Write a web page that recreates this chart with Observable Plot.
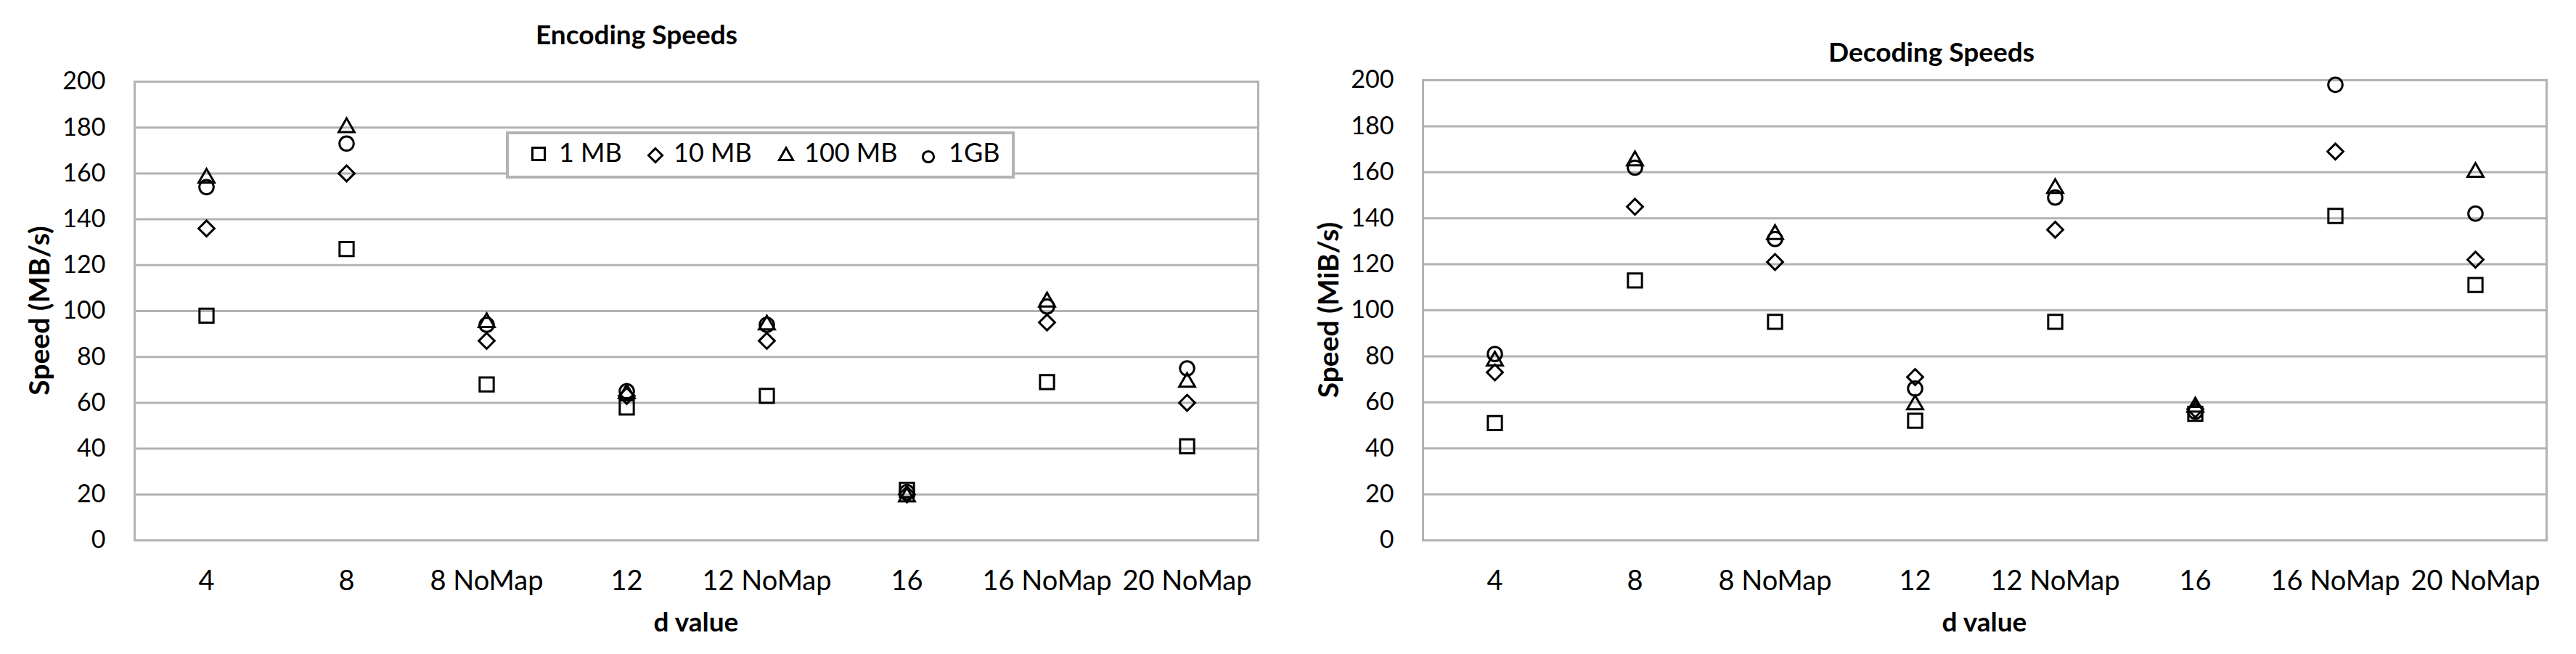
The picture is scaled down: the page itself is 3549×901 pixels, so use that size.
<!DOCTYPE html>
<html>
<head>
<meta charset="utf-8">
<script src="https://cdn.jsdelivr.net/npm/d3@7"></script>
<script src="https://cdn.jsdelivr.net/npm/@observablehq/plot@0.6"></script>
<style>
  body { margin: 0; background: #fff; }
  #page { position: relative; width: 3549px; height: 901px; overflow: hidden; background: #fff;
          font-family: Lato, "Open Sans", sans-serif; color: #000; }
  .abs { position: absolute; white-space: nowrap; line-height: 1.2; }
  .c { transform: translate(-50%, -50%); }
  .l { transform: translate(0, -50%); }
  .bold { font-weight: 700; font-size: 37px; }
  .rot { transform: translate(-50%, -50%) rotate(-90deg); }
  .legend { position: absolute; box-sizing: border-box; border: 4px solid #b3b3b3; background: #fff; }
  .leglab { font-size: 36px; }
  .plotwrap { position: absolute; }
  .plotwrap svg { max-width: none !important; }
</style>
</head>
<body>
<div id="page"></div>
<script>
// ---- data ----
const categories = ["4", "8", "8 NoMap", "12", "12 NoMap", "16", "16 NoMap", "20 NoMap"];
const seriesNames = ["1 MB", "10 MB", "100 MB", "1GB"];
const yTicks = [0, 20, 40, 60, 80, 100, 120, 140, 160, 180, 200];

// Encoding speeds (MB/s)
const enc1MB   = [98, 127, 68, 58, 63, 22, 69, 41];
const enc10MB  = [136, 160, 87, 63, 87, 20, 95, 60];
const enc100MB = [158, 180, 95, 64, 94, 19, 104, 69];
const enc1GB   = [154, 173, 94, 65, 94, 21, 102, 75];

// Decoding speeds (MiB/s)
const dec1MB   = [51, 113, 95, 52, 95, 55, 141, 111];
const dec10MB  = [73, 145, 121, 71, 135, 57, 169, 122];
const dec100MB = [78, 165, 133, 59, 153, 58, null, 160];
const dec1GB   = [81, 162, 131, 66, 149, 56, 198, 142];

// ---- styling ----
const symbols = ["square", "diamond2", "triangle2", "circle"];
const radii = [10.9, 9.8, 10.4, 9.8];
const grey = "#b3b3b3";

const page = document.getElementById("page");

function addDiv(cls, text, x, y, extra) {
  const d = document.createElement("div");
  d.className = "abs " + cls;
  d.textContent = text;
  d.style.left = x + "px";
  d.style.top = y + "px";
  if (extra) Object.assign(d.style, extra);
  page.appendChild(d);
  return d;
}

function makeChart(values, opts) {
  const marks = [
    Plot.gridY(yTicks, {stroke: grey, strokeOpacity: 1, strokeWidth: 3}),
    Plot.frame({stroke: grey, strokeWidth: 3}),
    Plot.axisY(yTicks, {tickSize: 0, tickPadding: 40, label: null, fontSize: 34}),
    Plot.axisX({tickSize: 0, tickPadding: 42, label: null, fontSize: 38}),
    ...seriesNames.map((s, k) =>
      Plot.dot(
        categories.map((c, i) => ({cat: c, v: values[k][i], series: s})),
        {x: "cat", y: "v", symbol: symbols[k], r: radii[k], stroke: "black", strokeWidth: 3, fill: "none"}
      )
    )
  ];
  const svg = Plot.plot({
    width: opts.width,
    height: opts.height,
    marginLeft: opts.marginLeft,
    marginRight: opts.marginRight,
    marginTop: opts.marginTop,
    marginBottom: opts.marginBottom,
    x: {type: "point", domain: categories, padding: 0.5},
    y: {domain: [0, 200]},
    style: {fontFamily: "Lato, 'Open Sans', sans-serif", fontSize: "35px", color: "black", background: "transparent", overflow: "visible"},
    marks
  });
  const wrap = document.createElement("div");
  wrap.className = "plotwrap";
  wrap.style.left = opts.left + "px";
  wrap.style.top = opts.top + "px";
  wrap.style.width = opts.width + "px";
  wrap.appendChild(svg);
  page.appendChild(wrap);
}

// Left: Encoding
makeChart([enc1MB, enc10MB, enc100MB, enc1GB],
  {left: 0, top: 80, width: 1775, height: 821, marginLeft: 185, marginRight: 42, marginTop: 32, marginBottom: 157});
// Right: Decoding
makeChart([dec1MB, dec10MB, dec100MB, dec1GB],
  {left: 1775, top: 80, width: 1774, height: 821, marginLeft: 185, marginRight: 41, marginTop: 30, marginBottom: 157});

// Titles and axis labels
addDiv("c bold", "Encoding Speeds", 877, 47);
addDiv("c bold", "Decoding Speeds", 2661, 71);
addDiv("c bold", "d value", 959, 856);
addDiv("c bold", "d value", 2734, 856);
addDiv("rot bold", "Speed (MB/s)", 53, 428, {fontSize: "39px"});
addDiv("rot bold", "Speed (MiB/s)", 1829, 427, {fontSize: "39px"});

// Legend (encoding chart)
const leg = document.createElement("div");
leg.className = "legend";
Object.assign(leg.style, {left: "697px", top: "181px", width: "701px", height: "65px"});
page.appendChild(leg);

const legSym = [
  {x: 742, y: 212, r: 9.6},
  {x: 903, y: 214, r: 8.6},
  {x: 1083, y: 215, r: 9.2},
  {x: 1279, y: 216, r: 7.6}
];
const legLab = [770, 928, 1108, 1307];
const d3sym = {square: d3.symbolSquare, diamond2: d3.symbolDiamond2, triangle2: d3.symbolTriangle2, circle: d3.symbolCircle};
seriesNames.forEach((s, k) => {
  const p = legSym[k];
  const size = 40;
  const svg = d3.create("svg").attr("width", size).attr("height", size)
    .style("position", "absolute").style("left", (p.x - size / 2) + "px").style("top", (p.y - size / 2) + "px");
  svg.append("path")
    .attr("transform", `translate(${size / 2},${size / 2})`)
    .attr("d", d3.symbol(d3sym[symbols[k]], Math.PI * p.r * p.r)())
    .attr("fill", "none").attr("stroke", "black").attr("stroke-width", 3);
  page.appendChild(svg.node());
  addDiv("l leglab", s, legLab[k], 210);
});
</script>
</body>
</html>
